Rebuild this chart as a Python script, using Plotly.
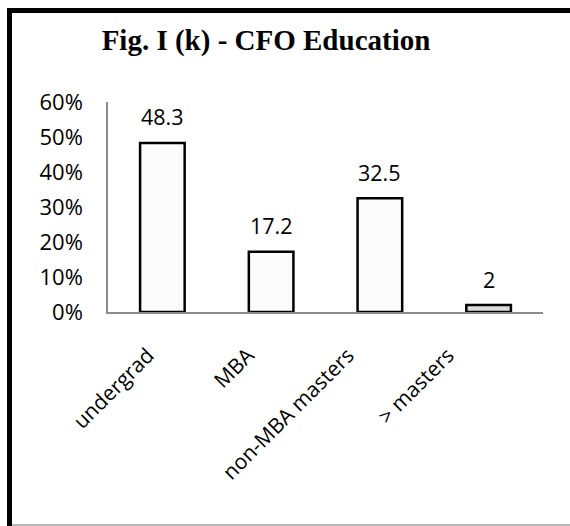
import plotly.graph_objects as go

categories = ["undergrad", "MBA", "non-MBA masters", "> masters"]
values = [0.483, 0.172, 0.325, 0.02]
labels = ["48.3", "17.2", "32.5", "2"]
bar_fills = ["#fbfbfb", "#fbfbfb", "#fbfbfb", "#dcdcdc"]

W, H = 570, 526
L, R, T, B = 108, 27, 102, 214
pw, ph = W - L - R, H - T - B

def px(x):
    return (x - L) / pw

def py(y):
    return (H - B - y) / ph

FONT = "Open Sans"

fig = go.Figure()
fig.add_trace(go.Bar(
    x=categories, y=values,
    marker=dict(color=bar_fills, line=dict(color="black", width=2.5)),
    width=0.41, hoverinfo="skip",
))
# invisible carrier trace so the category-label axis is drawn
fig.add_trace(go.Scatter(x=categories, y=values, xaxis="x2", mode="none",
                         hoverinfo="skip", showlegend=False))

for c, v, t in zip(categories, values, labels):
    fig.add_annotation(x=c, y=v, text=t, showarrow=False, yanchor="middle",
                       yshift=26, font=dict(family=FONT, size=21.5, color="black"))

shapes = [
    dict(type="line", xref="paper", yref="paper", x0=px(9.5), x1=px(9.5),
         y0=py(8), y1=py(526), line=dict(color="black", width=5)),
    dict(type="line", xref="paper", yref="paper", x0=px(7), x1=px(575),
         y0=py(10.5), y1=py(10.5), line=dict(color="black", width=5)),
    dict(type="line", xref="paper", yref="paper", x0=px(12), x1=px(575),
         y0=py(525), y1=py(525), line=dict(color="#a0a0a0", width=1.5)),
]

# label axis: the rotated category labels are spaced ~100 px apart (tighter than bars)
lab_r0 = -0.50
lab_r1 = lab_r0 + pw / 100

fig.update_layout(
    width=W, height=H,
    margin=dict(l=L, r=R, t=T, b=B, pad=0),
    paper_bgcolor="white", plot_bgcolor="white",
    showlegend=False,
    shapes=shapes,
    title=dict(text="<b>Fig. I (k) - CFO Education</b>", x=266 / W, xanchor="center",
               y=1 - 40 / H, yanchor="middle",
               font=dict(family="Liberation Serif", size=29, color="black")),
    xaxis=dict(showline=True, linecolor="#8c8c8c", linewidth=1.5, showgrid=False,
               ticks="", showticklabels=False),
    xaxis2=dict(overlaying="x", anchor="y", side="bottom",
                type="category", range=[lab_r0, lab_r1],
                showline=False, showgrid=False, zeroline=False,
                ticks="", tickangle=-45, ticklabelstandoff=26, ticklabelshift=-10,
                tickfont=dict(family=FONT, size=21, color="black")),
    yaxis=dict(range=[0, 0.6], tickvals=[0, 0.1, 0.2, 0.3, 0.4, 0.5, 0.6],
               tickformat=".0%", showline=True, linecolor="#8c8c8c", linewidth=1.5,
               showgrid=False, ticks="", zeroline=False, ticklabelstandoff=19,
               tickfont=dict(family=FONT, size=22, color="black")),
)

fig.write_html("out.html", post_script="document.body.style.margin='0';",
               config={"displayModeBar": False})
